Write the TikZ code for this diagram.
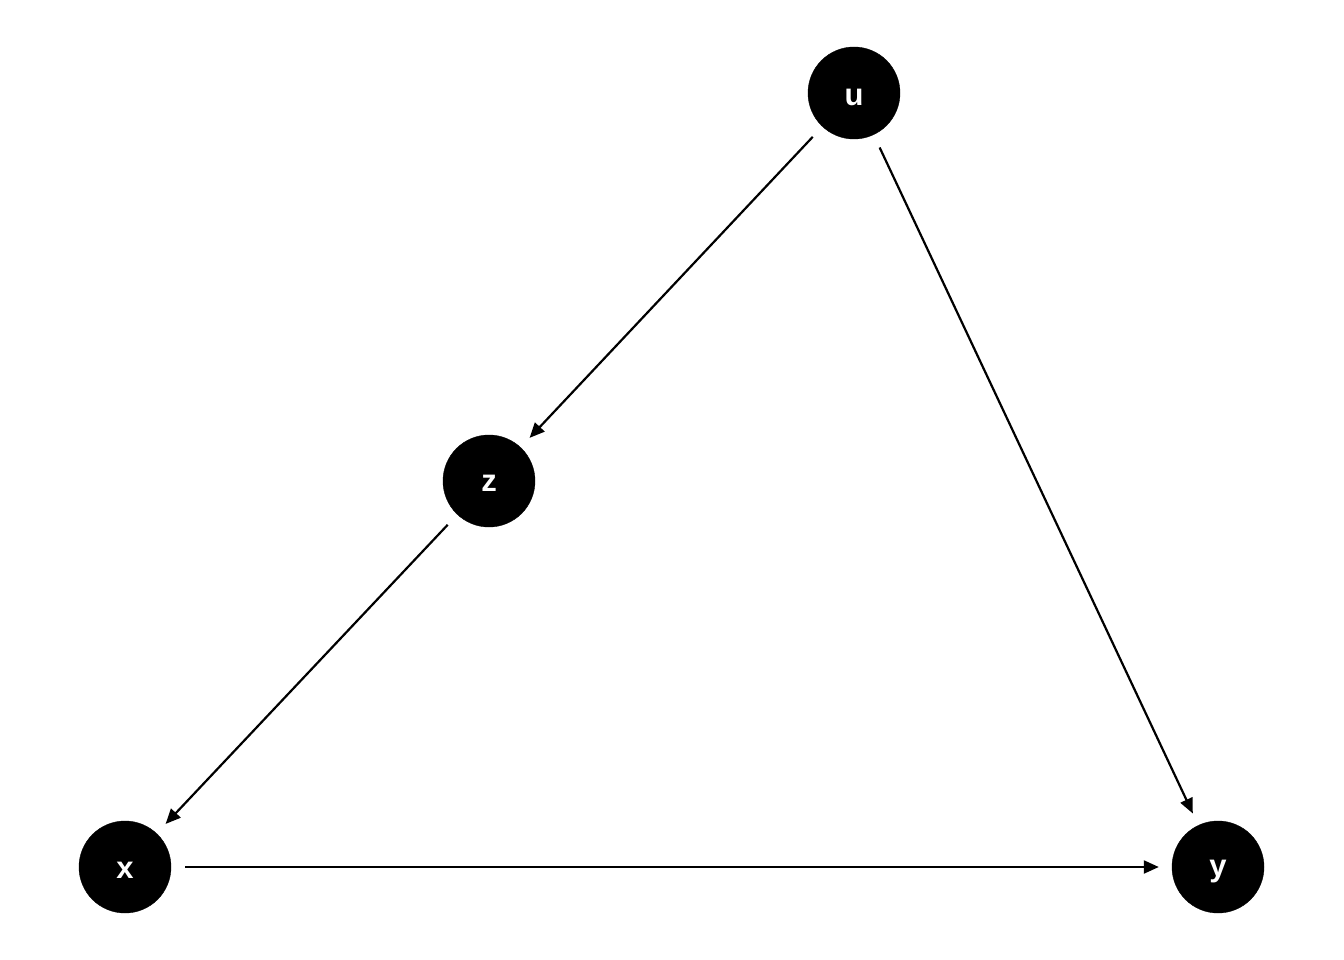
\documentclass[tikz,border=0pt]{standalone}
\usepackage{fontspec}
\setmainfont{Liberation Sans}
\usetikzlibrary{arrows.meta}
\begin{document}
\begin{tikzpicture}[x=1pt,y=-1pt,
  dagnode/.style={circle,fill=black,draw=black,minimum size=92pt,inner sep=0pt},
  lbl/.style={text=white,font=\fontsize{31}{35}\selectfont\bfseries},
  edge/.style={line width=2.2pt,-{Triangle[length=15pt,width=13pt]},shorten <=14pt,shorten >=13pt}]
\path[use as bounding box] (0,0) rectangle (1344,960);
\node[dagnode] (u) at (854,93) {};
\node[dagnode] (z) at (489,481) {};
\node[dagnode] (x) at (125,867) {};
\node[dagnode] (y) at (1218,867) {};
\node[lbl] (ut) at (854,97) {u};
\node[lbl] (zt) at (489,483) {z};
\node[lbl] (xt) at (125,870) {x};
\node[lbl] (yt) at (1218,872) {y};
\draw[edge] (u) -- (z);
\draw[edge] (u) -- (y);
\draw[edge] (z) -- (x);
\draw[edge] (x) -- (y);
\end{tikzpicture}
\end{document}
